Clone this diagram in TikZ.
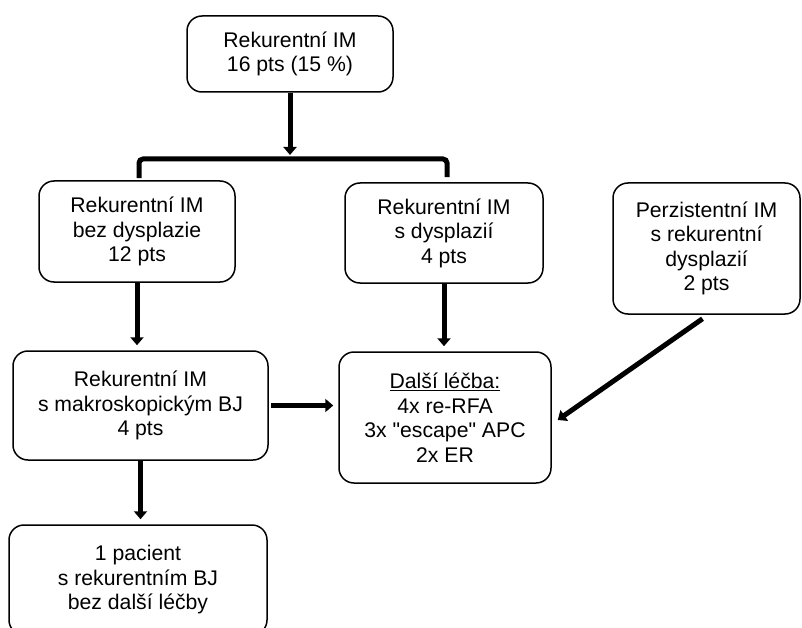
\documentclass[tikz,border=0pt]{standalone}
\usepackage{fontspec}
\setmainfont{Liberation Sans}
\usetikzlibrary{arrows.meta,calc}
\tikzstyle{box}=[draw, rounded corners=15pt, line width=1.5pt, align=center, inner sep=0pt, font=\fontsize{21.2}{24.5}\selectfont]
\tikzstyle{flow}=[line width=5pt, -{Triangle[width=13pt,length=8pt]}, shorten >=5pt]
\tikzstyle{bus}=[line width=5pt, rounded corners=4pt]

\begin{document}
\begin{tikzpicture}[x=1pt,y=-1pt]
\clip (0,0) rectangle (802,628);
\node[box, minimum width=206pt, minimum height=76pt] at (290,54) (Rek) {Rekurentní IM\\16 pts (15 \%)};
\node[box, minimum width=196pt, minimum height=101pt] at (137,231.5) (Bez) {Rekurentní IM\\bez dysplazie\\12 pts};
\node[box, minimum width=198pt, minimum height=100pt] at (444,233) (Dys) {Rekurentní IM\\s dysplazií\\4 pts};
\node[box, minimum width=187pt, minimum height=131pt] at (706.5,248.5) (Per) {Perzistentní IM\\s rekurentní\\dysplazií\\2 pts};
\node[box, minimum width=255pt, minimum height=109pt] at (140.5,405.5) (Mak) {Rekurentní IM\\s makroskopickým BJ\\4 pts};
\node[box, minimum width=212pt, minimum height=131pt] at (445,417.5) (Lec) {\underline{Další léčba:}\\4x re-RFA\\3x \textquotedbl escape\textquotedbl{} APC\\2x ER};
\node[box, minimum width=258pt, minimum height=110pt] at (138,580) (Pac) {1 pacient\\s rekurentním BJ\\bez další léčby};
\coordinate (split) at (290,159);
\draw[flow, shorten >=4pt] (Rek.south) -- (split);
\draw[bus] ($(Bez.north)+(2,-2)$) |- (split) -| ($(Dys.north)+(3,-5)$);
\draw[flow] (Bez.south) -- (Bez.south |- Mak.north);
\draw[flow] (Dys.south) -- (Dys.south |- Lec.north);
\draw[flow, shorten <=2pt] (Mak.east) -- (Mak.east -| Lec.west);
\draw[flow, shorten >=0pt] ($(Per.south)+(-4,4)$) -- ($(Lec.east)+(6,2.5)$);
\draw[flow] (Mak.south) -- (Mak.south |- Pac.north);
\end{tikzpicture}
\end{document}
